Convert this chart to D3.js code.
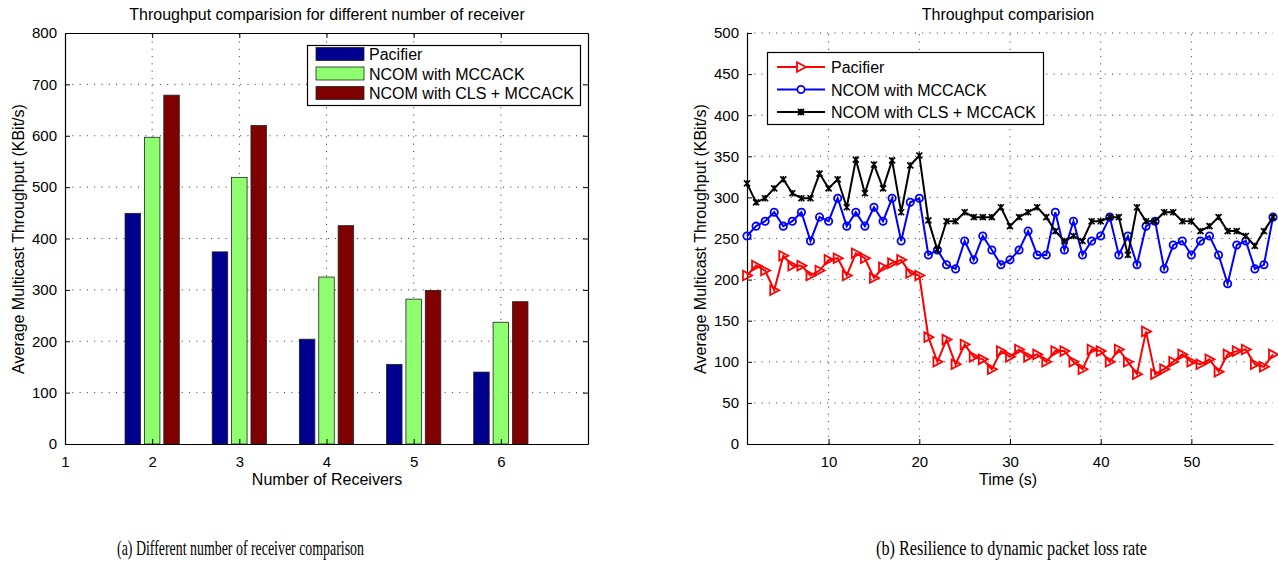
<!DOCTYPE html>
<html>
<head>
<meta charset="utf-8">
<script src="https://cdn.jsdelivr.net/npm/d3@7"></script>
<style>
  body { margin: 0; background: #fff; }
  svg { display: block; font-family: "Liberation Sans", Arial, sans-serif; }
  .caption { font-family: "Liberation Serif", "Times New Roman", serif; }
</style>
</head>
<body>
<svg id="fig" width="1278" height="561"></svg>
<script>
// ---- data for (a): bars per number of receivers
var receivers = [2, 3, 4, 5, 6];
var barSeries = ["Pacifier", "NCOM with MCCACK", "NCOM with CLS + MCCACK"];
var pacifierBars = [449, 374, 204, 155, 140];
var mccackBars = [597, 519, 325, 282, 237];
var clsBars = [679, 620, 425, 299, 277];
var barColors = ["#00008f", "#8fff70", "#800000"];

// ---- data for (b): throughput over time (s = 1..59)
var seconds = d3.range(1, 60);
var pacifierLine = [205, 217, 211, 187, 229, 217, 217, 205, 211, 224,
  226, 205, 232, 226, 202, 215, 220, 224, 208, 205,
  130, 100, 127, 97, 121, 106, 103, 91, 113, 106,
  115, 106, 109, 100, 113, 113, 100, 91, 115, 113,
  100, 115, 100, 85, 137, 85, 91, 100, 109, 100,
  97, 103, 88, 109, 113, 115, 97, 94, 109];
var mccackLine = [253, 265, 271, 282, 265, 271, 282, 247, 276, 271,
  299, 265, 282, 265, 288, 271, 299, 247, 294, 299,
  230, 236, 218, 213, 247, 224, 253, 236, 218, 224,
  236, 259, 230, 230, 282, 236, 271, 230, 247, 253,
  276, 230, 253, 218, 265, 271, 213, 242, 247, 230,
  247, 253, 230, 195, 242, 247, 213, 218, 276];
var clsLine = [317, 294, 299, 311, 322, 305, 299, 299, 329, 311,
  322, 288, 346, 305, 340, 311, 345, 282, 339, 351,
  272, 236, 271, 271, 282, 276, 276, 276, 288, 265,
  276, 282, 288, 276, 259, 247, 253, 247, 271, 271,
  276, 276, 230, 288, 271, 271, 282, 282, 271, 271,
  259, 265, 276, 259, 259, 253, 241, 259, 276];
var lineColors = ["#ff0000", "#0000ff", "#000000"];

var svg = d3.select("#fig");
var plotTop = 33, plotBottom = 444;

function dottedGrid(g, x, y, xTicks, yTicks) {
  var x0 = x.range()[0], x1 = x.range()[1];
  g.selectAll(".vg").data(xTicks).enter().append("line")
    .attr("x1", function(d) { return x(d); }).attr("x2", function(d) { return x(d); })
    .attr("y1", plotBottom).attr("y2", plotTop)
    .attr("stroke", "#333").attr("stroke-width", 1).attr("stroke-dasharray", "1,6.3");
  g.selectAll(".hg").data(yTicks).enter().append("line")
    .attr("x1", x0).attr("x2", x1)
    .attr("y1", function(d) { return y(d); }).attr("y2", function(d) { return y(d); })
    .attr("stroke", "#333").attr("stroke-width", 1).attr("stroke-dasharray", "1,6.3");
}

// ================= (a) bar chart =================
var xa = d3.scaleLinear().domain([1, 7]).range([65, 588]);
var ya = d3.scaleLinear().domain([0, 800]).range([plotBottom, plotTop]);
var ga = svg.append("g");

dottedGrid(ga, xa, ya, [2, 3, 4, 5, 6], [100, 200, 300, 400, 500, 600, 700]);

var groups = [pacifierBars, mccackBars, clsBars];
var slot = 0.667 / 3;
groups.forEach(function(vals, s) {
  ga.selectAll(".bar" + s).data(vals).enter().append("rect")
    .attr("x", function(d, i) { return xa(receivers[i] + (s - 1) * slot - slot * 0.4); })
    .attr("width", xa(1 + slot * 0.8) - xa(1))
    .attr("y", function(d) { return ya(d); })
    .attr("height", function(d) { return ya(0) - ya(d); })
    .attr("fill", barColors[s])
    .attr("stroke", "#222").attr("stroke-width", 0.8);
});

// axes (ticks inward, box on)
ga.append("g").attr("transform", "translate(0," + plotBottom + ")")
  .call(d3.axisBottom(xa).tickValues([1, 2, 3, 4, 5, 6, 7]).tickFormat(function(d) { return d < 7 ? d : ""; }).tickSizeInner(-5).tickSizeOuter(0).tickPadding(12));
ga.append("g").attr("transform", "translate(65,0)")
  .call(d3.axisLeft(ya).tickValues(d3.range(0, 801, 100)).tickSizeInner(-5).tickSizeOuter(0).tickPadding(8));
ga.append("g").attr("transform", "translate(0," + plotTop + ")")
  .call(d3.axisTop(xa).tickValues([2, 3, 4, 5, 6]).tickFormat("").tickSizeInner(-5).tickSizeOuter(0));
ga.append("g").attr("transform", "translate(588,0)")
  .call(d3.axisRight(ya).tickValues(d3.range(100, 800, 100)).tickFormat("").tickSizeInner(-5).tickSizeOuter(0));

ga.append("text").attr("x", 327).attr("y", 20).attr("text-anchor", "middle")
  .style("font-size", "16px").text("Throughput comparision for different number of receiver");
ga.append("text").attr("x", 327).attr("y", 485).attr("text-anchor", "middle")
  .style("font-size", "16px").text("Number of Receivers");
ga.append("text").attr("transform", "translate(24,239) rotate(-90)").attr("text-anchor", "middle")
  .style("font-size", "16px").text("Average Multicast Throughput (KBit/s)");

// legend
var la = ga.append("g");
la.append("rect").attr("x", 307.5).attr("y", 45.5).attr("width", 273).attr("height", 60)
  .attr("fill", "#fff").attr("stroke", "#000").attr("stroke-width", 1.2);
barSeries.forEach(function(name, i) {
  var cy = 54 + i * 19.5;
  la.append("rect").attr("x", 316).attr("y", cy - 6.5).attr("width", 48).attr("height", 13)
    .attr("fill", barColors[i]).attr("stroke", "#222").attr("stroke-width", 0.8);
  la.append("text").attr("x", 369).attr("y", cy + 6).style("font-size", "16px").text(name);
});

// ================= (b) line chart =================
var xb = d3.scaleLinear().domain([1, 59]).range([747, 1273]);
var yb = d3.scaleLinear().domain([0, 500]).range([plotBottom, plotTop]);
var gb = svg.append("g");

dottedGrid(gb, xb, yb, [10, 20, 30, 40, 50], [50, 100, 150, 200, 250, 300, 350, 400, 450, 500]);

gb.append("g").attr("transform", "translate(0," + plotBottom + ")")
  .call(d3.axisBottom(xb).tickValues([10, 20, 30, 40, 50]).tickSizeInner(-5).tickSizeOuter(0).tickPadding(12));
gb.append("g").attr("transform", "translate(747,0)")
  .call(d3.axisLeft(yb).tickValues(d3.range(0, 501, 50)).tickSizeInner(-5).tickSizeOuter(0).tickPadding(8));

var lineSeries = [pacifierLine, mccackLine, clsLine];
var markers = [
  "M-4,-4.8L5,0L-4,4.8Z",
  d3.symbol().type(d3.symbolCircle).size(42)(),
  "M-3,-3L3,3M-3,3L3,-3M0,-3.2L0,3.2"
];
lineSeries.forEach(function(vals, s) {
  var line = d3.line().x(function(d, i) { return xb(seconds[i]); }).y(function(d) { return yb(d); });
  gb.append("path").datum(vals).attr("d", line)
    .attr("fill", "none").attr("stroke", lineColors[s]).attr("stroke-width", 2);
  gb.selectAll(".m" + s).data(vals).enter().append("path")
    .attr("transform", function(d, i) { return "translate(" + xb(seconds[i]) + "," + yb(d) + ")"; })
    .attr("d", markers[s])
    .attr("fill", "none").attr("stroke", lineColors[s]).attr("stroke-width", s == 2 ? 1.6 : 1.8);
});

gb.append("text").attr("x", 1008).attr("y", 20).attr("text-anchor", "middle")
  .style("font-size", "16px").text("Throughput comparision");
gb.append("text").attr("x", 1008).attr("y", 485).attr("text-anchor", "middle")
  .style("font-size", "16px").text("Time (s)");
gb.append("text").attr("transform", "translate(706,239) rotate(-90)").attr("text-anchor", "middle")
  .style("font-size", "16px").text("Average Multicast Throughput (KBit/s)");

var lb = gb.append("g");
lb.append("rect").attr("x", 767.5).attr("y", 52.5).attr("width", 276).attr("height", 72)
  .attr("fill", "#fff").attr("stroke", "#000").attr("stroke-width", 1.2);
barSeries.forEach(function(name, i) {
  var cy = 67 + i * 22.5;
  lb.append("line").attr("x1", 777).attr("x2", 825).attr("y1", cy).attr("y2", cy)
    .attr("stroke", lineColors[i]).attr("stroke-width", 2);
  lb.append("path").attr("transform", "translate(801," + cy + ")").attr("d", markers[i])
    .attr("fill", "#fff").attr("stroke", lineColors[i]).attr("stroke-width", 1.8);
  lb.append("text").attr("x", 831).attr("y", cy + 6).style("font-size", "16px").text(name);
});

// shared tick styling
svg.selectAll(".tick text").style("font-size", "15px").attr("fill", "#000");
svg.selectAll(".domain").attr("stroke", "#000").attr("stroke-width", 1.2);
svg.selectAll(".tick line").attr("stroke", "#000");

// captions
svg.append("text").attr("class", "caption").attr("x", 117).attr("y", 555)
  .attr("textLength", 247).attr("lengthAdjust", "spacingAndGlyphs")
  .style("font-size", "21px").text("(a) Different number of receiver comparison");
svg.append("text").attr("class", "caption").attr("x", 876).attr("y", 555)
  .attr("textLength", 271).attr("lengthAdjust", "spacingAndGlyphs")
  .style("font-size", "21px").text("(b) Resilience to dynamic packet loss rate");
</script>
</body>
</html>
